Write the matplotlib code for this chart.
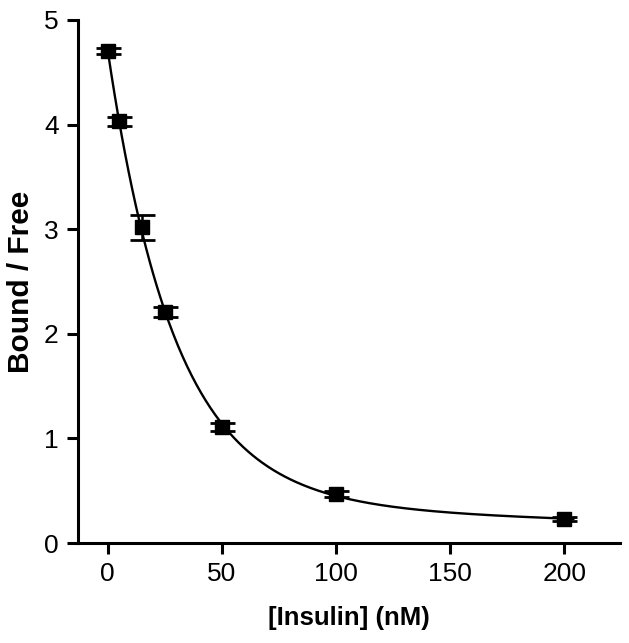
import numpy as np
import matplotlib

matplotlib.use("Agg")

import matplotlib.pyplot as plt

# data
insulin_nm = [0, 5, 15, 25, 50, 100, 200]
bound_free = [4.70, 4.03, 3.02, 2.21, 1.11, 0.47, 0.23]
bound_free_err = [0.03, 0.04, 0.12, 0.05, 0.04, 0.03, 0.02]
x_ticks = [0, 50, 100, 150, 200]
y_ticks = [0, 1, 2, 3, 4, 5]


def fit_two_phase(x, y):
    """Two-phase decay fit: grid over time constants, amplitudes by least squares."""
    x = np.asarray(x, dtype=float)
    y = np.asarray(y, dtype=float)
    best = None
    taus = np.geomspace(2, 2000, 150)
    for i, t1 in enumerate(taus):
        for t2 in taus[i + 1:]:
            basis = np.column_stack([np.exp(-x / t1), np.exp(-x / t2)])
            coef, *_ = np.linalg.lstsq(basis, y, rcond=None)
            if np.any(coef < 0):
                continue
            err = np.sum((basis @ coef - y) ** 2)
            if best is None or err < best[0]:
                best = (err, t1, t2, coef)
    _, t1, t2, coef = best
    return lambda t: coef[0] * np.exp(-t / t1) + coef[1] * np.exp(-t / t2)


plt.rcParams["font.family"] = ["Liberation Sans", "DejaVu Sans"]

fig = plt.figure(figsize=(6.29, 6.43), dpi=100)
ax = fig.add_axes([0.124, 0.1555, 0.862, 0.8135])

model = fit_two_phase(insulin_nm, bound_free)
x_fit = np.linspace(0, 204, 400)
ax.plot(x_fit, model(x_fit), color="black", linewidth=1.7)

ax.errorbar(
    insulin_nm,
    bound_free,
    yerr=bound_free_err,
    fmt="s",
    color="black",
    markersize=10,
    capsize=9,
    capthick=2,
    elinewidth=1.8,
)

ax.set_xlim(-13, 224.5)
ax.set_ylim(0, 5)
ax.set_xticks(x_ticks)
ax.set_yticks(y_ticks)

for side in ["top", "right"]:
    ax.spines[side].set_visible(False)
for side in ["left", "bottom"]:
    ax.spines[side].set_linewidth(2.2)

ax.tick_params(width=2.2, length=8, labelsize=19, pad=6)

ax.set_xlabel("[Insulin] (nM)", fontsize=18.5, fontweight="bold", labelpad=14)
ax.set_ylabel("Bound / Free", fontsize=21.5, fontweight="bold", labelpad=6)

plt.savefig("out.png", dpi=100)
plt.close()
